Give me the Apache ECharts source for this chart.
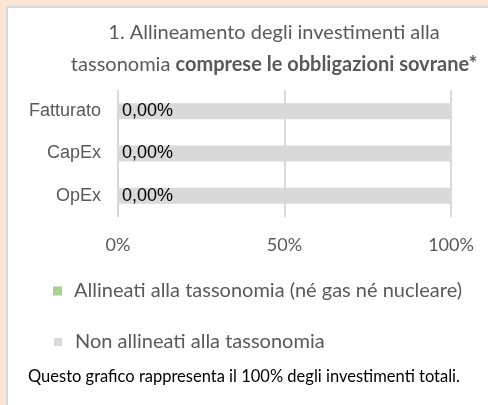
<!DOCTYPE html>
<html>
<head>
<meta charset="utf-8">
<script src="https://cdn.jsdelivr.net/npm/echarts@6/dist/echarts.min.js"></script>
<style>
html,body{margin:0;padding:0;background:#fff;}
#c{width:488px;height:405px;}
</style>
</head>
<body>
<div id="c"></div>
<script>
const categories = ['Fatturato', 'CapEx', 'OpEx'];
const alignedValues = [0, 0, 0];
const notAlignedValues = [100, 100, 100];
const xTicks = ['0%', '50%', '100%'];
const seriesNames = ['Allineati alla tassonomia (né gas né nucleare)', 'Non allineati alla tassonomia'];
const footerText = 'Questo grafico rappresenta il 100% degli investimenti totali.';

const chart = echarts.init(document.getElementById('c'), null, {renderer: 'canvas'});
const grey = '#595959';
const calib = 'Lato, "Open Sans", sans-serif';
const arial = '"Liberation Sans", Arial, sans-serif';

chart.setOption({
  animation: false,
  backgroundColor: '#fbe5d6',
  graphic: [
    {type: 'rect', z: -10, shape: {x: 7, y: 7, width: 490, height: 410}, style: {fill: '#fff', stroke: '#d9d9d9', lineWidth: 2}},
    {type: 'text', left: 28, top: 368, style: {text: footerText, fill: '#000', font: '16.5px ' + calib}}
  ],
  title: {
    text: '1. Allineamento degli investimenti alla\ntassonomia {b|comprese le obbligazioni sovrane*}',
    left: 269, top: 12, textAlign: 'center',
    textStyle: {
      color: grey, fontSize: 20, fontWeight: 'normal', fontFamily: calib, lineHeight: 32,
      rich: {b: {fontWeight: 'bold', color: grey, fontSize: 20, fontFamily: calib, lineHeight: 32}}
    }
  },
  legend: [
    {data: [seriesNames[0]], left: 48, top: 276, itemWidth: 9, itemHeight: 9, icon: 'rect',
     textStyle: {color: grey, fontSize: 20, fontFamily: calib, padding: [0, 0, 0, 7]}},
    {data: [seriesNames[1]], left: 49, top: 327, itemWidth: 8, itemHeight: 8, icon: 'rect',
     textStyle: {color: grey, fontSize: 20, fontFamily: calib, padding: [0, 0, 0, 8]}}
  ],
  grid: {left: 118, right: 37, top: 90, bottom: 188, containLabel: false},
  xAxis: {
    type: 'value', min: 0, max: 100, interval: 50,
    axisLine: {show: false}, axisTick: {show: false},
    splitLine: {lineStyle: {color: '#d9d9d9', width: 2}},
    axisLabel: {color: grey, fontSize: 18, fontFamily: calib, margin: 19,
      formatter: v => xTicks[Math.round(v / 50)]}
  },
  yAxis: {
    type: 'category', data: categories, inverse: true,
    axisLine: {show: false}, axisTick: {show: false},
    axisLabel: {color: grey, fontSize: 18, fontFamily: arial, margin: 17}
  },
  series: [
    {name: seriesNames[0], type: 'bar', stack: 't', data: alignedValues, barWidth: 16,
     itemStyle: {color: '#a9d18e'},
     label: {show: true, position: 'right', distance: 4, color: '#000', fontSize: 18, fontFamily: arial,
       formatter: p => p.value.toFixed(2).replace('.', ',') + '%'}},
    {name: seriesNames[1], type: 'bar', stack: 't', data: notAlignedValues, barWidth: 16,
     itemStyle: {color: '#d9d9d9'}}
  ]
});
</script>
</body>
</html>
